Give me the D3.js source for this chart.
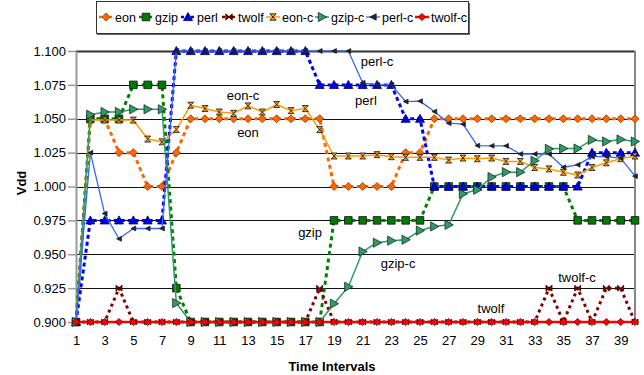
<!DOCTYPE html>
<html>
<head>
<meta charset="utf-8">
<script src="https://cdn.jsdelivr.net/npm/d3@7"></script>
<style>
  html, body { margin: 0; padding: 0; background: #fff; }
  svg { display: block; font-family: "Liberation Sans", Arial, sans-serif; }
</style>
</head>
<body>
<svg id="chart" width="644" height="375"></svg>
<script>
// time intervals 1..40
const intervals = d3.range(1, 41);
const yTicks = [0.9, 0.925, 0.95, 0.975, 1.0, 1.025, 1.05, 1.075, 1.1];
const xTicks = d3.range(1, 41, 2);

const eon = [0.9, 1.05, 1.05, 1.025, 1.025, 1.0, 1.0, 1.025,
  1.05, 1.05, 1.05, 1.05, 1.05, 1.05, 1.05, 1.05, 1.05, 1.05,
  1.0, 1.0, 1.0, 1.0, 1.0, 1.025, 1.025,
  1.05, 1.05, 1.05, 1.05, 1.05, 1.05, 1.05, 1.05, 1.05, 1.05, 1.05, 1.05, 1.05, 1.05, 1.05];
const gzip = [0.9, 1.05, 1.05, 1.05, 1.075, 1.075, 1.075, 0.925,
  0.9, 0.9, 0.9, 0.9, 0.9, 0.9, 0.9, 0.9, 0.9, 0.9,
  0.975, 0.975, 0.975, 0.975, 0.975, 0.975, 0.975,
  1.0, 1.0, 1.0, 1.0, 1.0, 1.0, 1.0, 1.0, 1.0, 1.0,
  0.975, 0.975, 0.975, 0.975, 0.975];
const perl = [0.9, 0.975, 0.975, 0.975, 0.975, 0.975, 0.975,
  1.1, 1.1, 1.1, 1.1, 1.1, 1.1, 1.1, 1.1, 1.1, 1.1,
  1.075, 1.075, 1.075, 1.075, 1.075, 1.075, 1.05, 1.05,
  1.0, 1.0, 1.0, 1.0, 1.0, 1.0, 1.0, 1.0, 1.0, 1.0, 1.0,
  1.025, 1.025, 1.025, 1.025];
const twolf = [0.9, 0.9, 0.9, 0.925, 0.9, 0.9, 0.9, 0.9, 0.9, 0.9,
  0.9, 0.9, 0.9, 0.9, 0.9, 0.9, 0.9, 0.925, 0.9, 0.9,
  0.9, 0.9, 0.9, 0.9, 0.9, 0.9, 0.9, 0.9, 0.9, 0.9,
  0.9, 0.9, 0.9, 0.925, 0.9, 0.925, 0.9, 0.925, 0.925, 0.9];
const eonC = [0.9, 1.049, 1.049, 1.049, 1.049, 1.035, 1.033, 1.042, 1.06, 1.0575,
  1.055, 1.054, 1.0595, 1.055, 1.0605, 1.056, 1.0575, 1.042, 1.0225, 1.0225,
  1.0225, 1.0235, 1.022, 1.0215, 1.0215, 1.0215, 1.0195, 1.021, 1.0205, 1.021,
  1.0185, 1.0185, 1.014, 1.013, 1.0105, 1.0085, 1.014, 1.0175, 1.0205, 1.0225];
const gzipC = [0.9, 1.053, 1.055, 1.055, 1.057, 1.057, 1.057, 0.914, 0.9, 0.9,
  0.9, 0.9, 0.9, 0.9, 0.9, 0.9, 0.9, 0.9, 0.9135, 0.926,
  0.952, 0.9585, 0.96, 0.9607, 0.9675, 0.9705, 0.9717, 0.9946, 0.9976, 1.007,
  1.0106, 1.0106, 1.019, 1.0278, 1.028, 1.028, 1.0344, 1.0332, 1.0347, 1.0332];
const perlC = [0.9, 1.025, 0.98, 0.9614, 0.969, 0.969, 0.969, 1.1, 1.1, 1.1,
  1.1, 1.1, 1.1, 1.1, 1.1, 1.1, 1.1, 1.1, 1.1, 1.1,
  1.0765, 1.075, 1.075, 1.0627, 1.063, 1.0553, 1.0467, 1.046, 1.0302, 1.03,
  1.03, 1.024, 1.024, 1.024, 1.0142, 1.016, 1.022, 1.022, 1.021, 1.0076];
const twolfC = [0.9, 0.9, 0.9, 0.9, 0.9, 0.9, 0.9, 0.9, 0.9, 0.9,
  0.9, 0.9, 0.9, 0.9, 0.9, 0.9, 0.9, 0.9, 0.9, 0.9,
  0.9, 0.9, 0.9, 0.9, 0.9, 0.9, 0.9, 0.9, 0.9, 0.9,
  0.9, 0.9, 0.9, 0.9, 0.9, 0.9, 0.9, 0.9, 0.9, 0.9];

const seriesNames = ["eon", "gzip", "perl", "twolf", "eon-c", "gzip-c", "perl-c", "twolf-c"];
const seriesValues = [eon, gzip, perl, twolf, eonC, gzipC, perlC, twolfC];

// in-plot annotations, positioned in data units
const annotations = [
  { text: "perl-c", x: 22.0, y: 1.0926 },
  { text: "perl", x: 21.23, y: 1.0631 },
  { text: "eon-c", x: 12.65, y: 1.0668 },
  { text: "eon", x: 13.0, y: 1.0395 },
  { text: "gzip", x: 17.33, y: 0.9664 },
  { text: "gzip-c", x: 23.47, y: 0.9435 },
  { text: "twolf-c", x: 35.95, y: 0.9325 },
  { text: "twolf", x: 29.95, y: 0.9103 },
];

const style = {
  "eon":     { color: "#FF6600", width: 3, dash: "4,3.5", marker: "diamond", size: 4, fill: "#FF6600", stroke: "#8a3a00" },
  "gzip":    { color: "#008000", width: 3, dash: "4,3.5", marker: "square", size: 3.8, fill: "#007a00", stroke: "#111" },
  "perl":    { color: "#0000FF", width: 3, dash: "4,3", marker: "triUp", size: 4.5, fill: "#0000EE", stroke: "#000060" },
  "twolf":   { color: "#800000", width: 3, dash: "3,3.5", marker: "bowtie", size: 3, fill: "#800000", stroke: "#300" },
  "eon-c":   { color: "#FF9900", width: 1.5, dash: null, marker: "hourglass", size: 3, fill: "#FF9900", stroke: "#111" },
  "gzip-c":  { color: "#339966", width: 1.5, dash: null, marker: "triRight", size: 4.6, fill: "#339966", stroke: "#103020" },
  "perl-c":  { color: "#3366FF", width: 1.3, dash: null, marker: "triLeft", size: 2.4, fill: "#222", stroke: "#222" },
  "twolf-c": { color: "#FF0000", width: 2.5, dash: null, marker: "diamond", size: 3.6, fill: "#FF0000", stroke: "#600" },
};

function markerPath(type, s) {
  switch (type) {
    case "diamond": return `M0,${-s}L${s},0L0,${s}L${-s},0Z`;
    case "square": return `M${-s},${-s}H${s}V${s}H${-s}Z`;
    case "triUp": return `M0,${-s}L${s},${s * 0.8}L${-s},${s * 0.8}Z`;
    case "triRight": return `M${s},0L${-s * 0.8},${-s}L${-s * 0.8},${s}Z`;
    case "triLeft": return `M${-s},0L${s},${-s}L${s},${s}Z`;
    case "bowtie": return `M${-s},${-s}L0,0L${-s},${s}Z M${s},${-s}L0,0L${s},${s}Z`;
    case "hourglass": return `M${-s},${-s}H${s}L0,0Z M${-s},${s}H${s}L0,0Z`;
  }
}

const svg = d3.select("#chart");
const x = d3.scaleLinear().domain([1, 40]).range([76, 635]);
const y = d3.scaleLinear().domain([0.9, 1.1]).range([322, 51]);

// grid
svg.append("g").selectAll("line").data(yTicks).join("line")
  .attr("x1", x(1)).attr("x2", x(40))
  .attr("y1", (d) => Math.round(y(d)) + 0.5).attr("y2", (d) => Math.round(y(d)) + 0.5)
  .attr("stroke", (d) => (d === 1.1 ? "#333" : "#111"))
  .attr("stroke-width", (d) => (d === 1.1 ? 2 : 1));

// right border
svg.append("line")
  .attr("x1", x(40)).attr("x2", x(40)).attr("y1", y(1.1)).attr("y2", y(0.9))
  .attr("stroke", "#888").attr("stroke-width", 2);

// y axis
const gy = svg.append("g").attr("transform", `translate(${x(1)},0)`)
  .call(d3.axisLeft(y).tickValues(yTicks).tickFormat(d3.format(".3f")).tickSize(8).tickPadding(2).tickSizeOuter(0));
gy.select(".domain").attr("stroke", "#999").attr("stroke-width", 2);
gy.selectAll(".tick line").attr("stroke", "#999").attr("stroke-width", 1.5);
gy.selectAll("text").attr("fill", "#000").style("font-size", "13px");

// x axis labels (no ticks shown)
const gx = svg.append("g").attr("transform", `translate(0,${y(0.9)})`)
  .call(d3.axisBottom(x).tickValues(xTicks).tickFormat(d3.format("d")).tickSize(0).tickPadding(14));
gx.select(".domain").remove();
gx.selectAll("text").attr("fill", "#000").style("font-size", "13px");

// series lines
const line = d3.line().x((d, i) => x(intervals[i])).y((d) => y(d));
const seriesLayer = svg.append("g");
seriesNames.forEach((name, k) => {
  const st = style[name];
  const g = seriesLayer.append("g").attr("class", "series");
  g.append("path")
    .attr("d", line(seriesValues[k]))
    .attr("fill", "none")
    .attr("stroke", st.color)
    .attr("stroke-width", st.width)
    .attr("stroke-dasharray", st.dash)
    .attr("stroke-linejoin", "round");
  g.selectAll("path.mk").data(seriesValues[k]).join("path")
    .attr("class", "mk")
    .attr("transform", (d, i) => `translate(${x(intervals[i])},${y(d)})`)
    .attr("d", markerPath(st.marker, st.size))
    .attr("fill", st.fill)
    .attr("stroke", st.stroke)
    .attr("stroke-width", 0.8);
});

// annotations
svg.append("g").selectAll("text").data(annotations).join("text")
  .attr("x", (d) => x(d.x)).attr("y", (d) => y(d.y) + 4.5)
  .attr("text-anchor", "middle")
  .style("font-size", "13px")
  .attr("fill", "#000")
  .text((d) => d.text);

// axis titles
svg.append("text")
  .attr("x", 332).attr("y", 371)
  .attr("text-anchor", "middle")
  .style("font-size", "13px").style("font-weight", "bold")
  .text("Time Intervals");
svg.append("text")
  .attr("transform", "translate(26,183) rotate(-90)")
  .attr("text-anchor", "middle")
  .style("font-size", "13px").style("font-weight", "bold")
  .text("Vdd");

// legend
const legend = svg.append("g");
legend.append("rect").attr("x", 97).attr("y", 3).attr("width", 373).attr("height", 32).attr("fill", "#666");
legend.append("rect").attr("x", 96.5).attr("y", 1.5).attr("width", 372).attr("height", 32)
  .attr("fill", "#fff").attr("stroke", "#333").attr("stroke-width", 1);
const legendX = [106, 146, 188, 229, 273, 322, 373, 422];
const item = legend.selectAll("g.item").data(seriesNames).join("g")
  .attr("class", "item")
  .attr("transform", (d, i) => `translate(${legendX[i]},17)`);
item.append("line")
  .attr("x1", -7).attr("x2", 7)
  .attr("stroke", (d) => style[d].color)
  .attr("stroke-width", (d) => Math.min(style[d].width, 2.5))
  .attr("stroke-dasharray", (d) => (style[d].dash ? "3,2" : null));
item.append("path")
  .attr("d", (d) => markerPath(style[d].marker, Math.max(style[d].size, 3.2)))
  .attr("fill", (d) => style[d].fill)
  .attr("stroke", (d) => style[d].stroke)
  .attr("stroke-width", 0.8);
item.append("text")
  .attr("x", 9).attr("y", 4.5)
  .style("font-size", "12.5px")
  .attr("fill", "#000")
  .text((d) => d);
</script>
</body>
</html>
